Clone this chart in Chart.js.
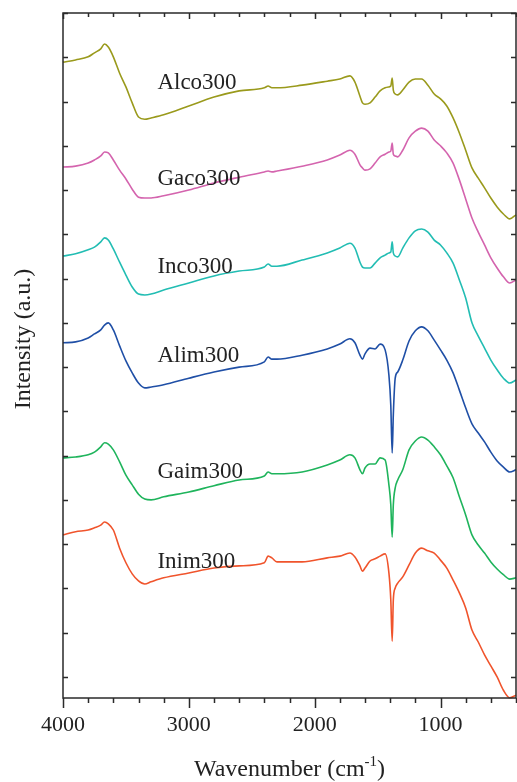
<!DOCTYPE html>
<html>
<head>
<meta charset="utf-8">
<script src="https://cdn.jsdelivr.net/npm/chart.js@4.4.1/dist/chart.umd.min.js"></script>
<style>
  html, body { margin: 0; padding: 0; background: #fff; }
  #wrap { position: relative; width: 517px; height: 782px; }
</style>
</head>
<body>
<div id="wrap"><canvas id="ftirChart"></canvas></div>
<script>
// wavenumber grid (cm-1), shared by all spectra
const wavenumbers = [4000, 3900, 3800, 3750, 3700, 3670, 3640, 3600,
  3550, 3500, 3450, 3400, 3350, 3300, 3200, 3000,
  2800, 2600, 2400, 2370, 2340, 2300, 2100, 1900,
  1800, 1720, 1680, 1640, 1620, 1600, 1560, 1520,
  1480, 1440, 1410, 1395, 1384, 1375, 1360, 1340,
  1300, 1250, 1200, 1150, 1100, 1050, 1000, 950,
  900, 850, 800, 750, 700, 650, 600, 550,
  500, 450, 400];

// stacked intensities (a.u.)
const alco300 = [13.89, 13.94, 14.01, 14.10, 14.19, 14.30, 14.23, 14.01,
  13.64, 13.33, 12.97, 12.65, 12.60, 12.63, 12.70, 12.90,
  13.10, 13.24, 13.31, 13.35, 13.31, 13.31, 13.37, 13.46,
  13.51, 13.58, 13.44, 13.12, 12.97, 12.94, 12.97, 13.10,
  13.24, 13.31, 13.33, 13.35, 13.53, 13.26, 13.17, 13.15,
  13.26, 13.44, 13.51, 13.51, 13.37, 13.17, 13.06, 12.90,
  12.63, 12.29, 11.90, 11.50, 11.27, 11.05, 10.82, 10.62,
  10.46, 10.35, 10.44];
const gaco300 = [11.52, 11.54, 11.61, 11.68, 11.77, 11.86, 11.84, 11.68,
  11.45, 11.25, 11.02, 10.84, 10.82, 10.82, 10.87, 11.00,
  11.16, 11.29, 11.41, 11.43, 11.41, 11.43, 11.54, 11.68,
  11.79, 11.90, 11.81, 11.57, 11.50, 11.45, 11.48, 11.61,
  11.75, 11.81, 11.86, 11.88, 12.06, 11.81, 11.77, 11.75,
  11.90, 12.18, 12.33, 12.40, 12.33, 12.13, 12.00, 11.84,
  11.61, 11.23, 10.80, 10.37, 10.05, 9.76, 9.47, 9.24,
  9.04, 8.90, 8.97];
const inco300 = [9.51, 9.56, 9.65, 9.71, 9.83, 9.92, 9.87, 9.67,
  9.37, 9.08, 8.81, 8.65, 8.63, 8.65, 8.74, 8.90,
  9.06, 9.17, 9.26, 9.33, 9.28, 9.28, 9.42, 9.58,
  9.69, 9.80, 9.69, 9.37, 9.26, 9.24, 9.24, 9.35,
  9.47, 9.53, 9.58, 9.60, 9.83, 9.58, 9.51, 9.49,
  9.69, 9.92, 10.08, 10.12, 10.05, 9.87, 9.76, 9.58,
  9.35, 8.97, 8.56, 8.00, 7.70, 7.43, 7.16, 6.94,
  6.75, 6.64, 6.71];
const alim300 = [7.55, 7.57, 7.66, 7.75, 7.84, 7.95, 8.00, 7.84,
  7.48, 7.14, 6.87, 6.64, 6.53, 6.55, 6.60, 6.75,
  6.89, 7.00, 7.12, 7.23, 7.18, 7.18, 7.27, 7.41,
  7.52, 7.64, 7.55, 7.27, 7.18, 7.30, 7.43, 7.41,
  7.52, 7.39, 6.82, 6.14, 5.06, 5.92, 6.75, 6.89,
  7.16, 7.59, 7.82, 7.91, 7.82, 7.61, 7.39, 7.16,
  6.87, 6.48, 6.08, 5.72, 5.51, 5.31, 5.08, 4.88,
  4.74, 4.63, 4.68];
const gaim300 = [4.95, 4.97, 5.02, 5.08, 5.20, 5.29, 5.26, 5.13,
  4.86, 4.56, 4.34, 4.13, 4.02, 4.00, 4.07, 4.18,
  4.32, 4.45, 4.54, 4.63, 4.59, 4.59, 4.63, 4.79,
  4.90, 5.02, 4.95, 4.68, 4.59, 4.72, 4.81, 4.81,
  4.95, 4.90, 4.34, 3.89, 3.16, 3.89, 4.27, 4.45,
  4.68, 5.13, 5.33, 5.42, 5.35, 5.20, 5.02, 4.77,
  4.50, 4.07, 3.66, 3.21, 2.98, 2.80, 2.60, 2.44,
  2.31, 2.21, 2.24];
const inim300 = [3.21, 3.28, 3.32, 3.37, 3.43, 3.50, 3.46, 3.32,
  2.91, 2.58, 2.33, 2.17, 2.10, 2.15, 2.24, 2.35,
  2.46, 2.51, 2.58, 2.73, 2.69, 2.60, 2.60, 2.69,
  2.73, 2.80, 2.71, 2.51, 2.39, 2.46, 2.62, 2.67,
  2.73, 2.78, 2.35, 1.74, 0.81, 1.74, 2.01, 2.12,
  2.26, 2.53, 2.80, 2.91, 2.85, 2.80, 2.64, 2.46,
  2.19, 1.90, 1.56, 1.06, 0.79, 0.50, 0.25, 0.00,
  -0.30, -0.47, -0.41];

const seriesNames = ['Alco300', 'Gaco300', 'Inco300', 'Alim300', 'Gaim300', 'Inim300'];
const seriesValues = [alco300, gaco300, inco300, alim300, gaim300, inim300];
const seriesColors = ['#9a9a1c', '#d464ae', '#22bdb3', '#1f4fa6', '#1fb45c', '#f0542c'];
const labelLevels = [13.28, 11.11, 9.13, 7.12, 4.50, 2.46];
const labelWavenumber = 3250;
const xTickLabels = [4000, 3000, 2000, 1000];

const serif = "'Liberation Serif', 'Times New Roman', serif";

// frame, tick marks, curve names and axis titles
const ftirDecor = {
    id: 'ftirDecor',
    afterDraw(chart) {
        const { ctx, chartArea: a, scales: { x, y } } = chart;
        ctx.save();
        ctx.strokeStyle = '#2a2a2a';
        ctx.lineWidth = 1.5;
        ctx.strokeRect(a.left, a.top, a.right - a.left, a.bottom - a.top);

        ctx.beginPath();
        x.ticks.forEach(t => {
            const px = Math.round(x.getPixelForValue(t.value)) + 0.5;
            const major = xTickLabels.includes(t.value);
            ctx.moveTo(px, a.bottom);
            ctx.lineTo(px, a.bottom + (major ? 10 : 5));
            ctx.moveTo(px, a.top);
            ctx.lineTo(px, a.top + (major ? 6 : 4));
        });
        y.ticks.forEach(t => {
            const py = Math.round(y.getPixelForValue(t.value)) + 0.5;
            ctx.moveTo(a.left, py);
            ctx.lineTo(a.left + 5, py);
            ctx.moveTo(a.right, py);
            ctx.lineTo(a.right - 5, py);
        });
        ctx.stroke();

        ctx.fillStyle = '#222';
        ctx.font = '23px ' + serif;
        ctx.textAlign = 'left';
        ctx.textBaseline = 'alphabetic';
        seriesNames.forEach((name, i) => {
            ctx.fillText(name, x.getPixelForValue(labelWavenumber), y.getPixelForValue(labelLevels[i]));
        });

        // x title with superscript
        ctx.font = '24px ' + serif;
        const mainTxt = 'Wavenumber (cm';
        const supTxt = '-1';
        const endTxt = ')';
        const supFont = '15px ' + serif;
        const w1 = ctx.measureText(mainTxt).width;
        const w3 = ctx.measureText(endTxt).width;
        ctx.font = supFont;
        const w2 = ctx.measureText(supTxt).width;
        let sx = (a.left + a.right) / 2 - (w1 + w2 + w3) / 2;
        const base = 776;
        ctx.font = '24px ' + serif;
        ctx.fillText(mainTxt, sx, base);
        ctx.font = supFont;
        ctx.fillText(supTxt, sx + w1, base - 10);
        ctx.font = '24px ' + serif;
        ctx.fillText(endTxt, sx + w1 + w2, base);

        // y title
        ctx.translate(30, 339);
        ctx.rotate(-Math.PI / 2);
        ctx.textAlign = 'center';
        ctx.fillText('Intensity (a.u.)', 0, 0);
        ctx.restore();
    }
};

document.addEventListener('DOMContentLoaded', function() {
    const ctx = document.getElementById('ftirChart').getContext('2d');
    new Chart(ctx, {
        type: 'line',
        data: {
            datasets: seriesNames.map((name, i) => ({
                label: name,
                data: wavenumbers.map((w, k) => ({ x: w, y: seriesValues[i][k] })),
                borderColor: seriesColors[i],
                borderWidth: 1.6,
                pointRadius: 0,
                cubicInterpolationMode: 'monotone',
                clip: 4
            }))
        },
        options: {
            responsive: true,
            maintainAspectRatio: false,
            animation: false,
            layout: { padding: { top: 13, right: 1, left: 0, bottom: 0 } },
            plugins: {
                legend: { display: false },
                tooltip: { enabled: false }
            },
            scales: {
                x: {
                    type: 'linear',
                    reverse: true,
                    min: 400,
                    max: 4000,
                    grid: { display: false, drawTicks: false },
                    border: { display: false },
                    ticks: {
                        stepSize: 200,
                        autoSkip: false,
                        maxRotation: 0,
                        padding: 14,
                        color: '#222',
                        font: { family: serif, size: 22 },
                        callback: v => xTickLabels.includes(v) ? String(v) : ''
                    },
                    afterFit: s => {
                        s.height = 84;
                        s.paddingLeft = 0;
                        s.paddingRight = 0;
                    }
                },
                y: {
                    min: -0.475,
                    max: 15,
                    grid: { display: false, drawTicks: false },
                    border: { display: false },
                    ticks: { display: false, stepSize: 1, includeBounds: false },
                    afterFit: s => { s.width = 63; }
                }
            }
        },
        plugins: [ftirDecor]
    });
});
</script>
</body>
</html>
